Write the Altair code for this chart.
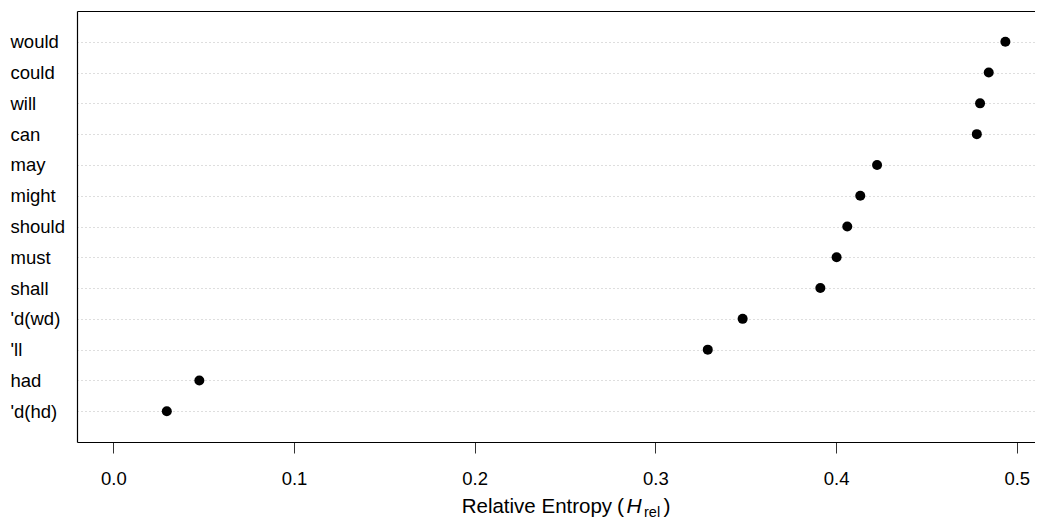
import altair as alt
import pandas as pd

words = ["would", "could", "will", "can", "may", "might", "should", "must",
         "shall", "'d(wd)", "'ll", "had", "'d(hd)"]
values = [0.4937, 0.4845, 0.4797, 0.4779, 0.4227, 0.4134, 0.4062, 0.4003,
          0.3913, 0.3483, 0.3290, 0.0476, 0.0296]
x_ticks = [0.0, 0.1, 0.2, 0.3, 0.4, 0.5]
title_parts = ["Relative Entropy ", "(", "H", "rel", ")"]

FONT = "Liberation Sans"
W, H = 958, 431

df = pd.DataFrame({"word": words, "value": values})

xscale = alt.Scale(domain=[-0.0201, 0.5101], nice=False, zero=False)
yscale = alt.Scale(type="point", padding=1)

points = alt.Chart(df).mark_circle(size=100, color="black", opacity=1).encode(
    x=alt.X("value:Q", scale=xscale,
            axis=alt.Axis(values=x_ticks, format=".1f", title=None, grid=False,
                          domain=True, domainColor="black", domainWidth=1.2,
                          tickColor="#333333", tickSize=11,
                          labelFontSize=18.5, labelPadding=16, labelColor="black",
                          labelFont=FONT)),
    y=alt.Y("word:N", sort=words, scale=yscale,
            axis=alt.Axis(title=None, ticks=False, tickSize=0, labelAlign="left",
                          labelPadding=67, labelFontSize=18.5, labelFont=FONT,
                          labelColor="black", grid=True, gridDash=[1, 3],
                          gridColor="#bdbdbd", domain=True, domainColor="black",
                          domainWidth=1.2)),
)

# invisible layer that only carries the top border line of the box
top_border = alt.Chart(df).mark_circle(opacity=0).encode(
    x=alt.X("value:Q", scale=xscale,
            axis=alt.Axis(orient="top", labels=False, ticks=False, title=None,
                          grid=False, domain=True, domainColor="black",
                          domainWidth=1.2)),
)

def part(i, xpos, ypos, size, style="normal"):
    d = pd.DataFrame({"t": [title_parts[i]]})
    return alt.Chart(d).mark_text(align="left", baseline="alphabetic", font=FONT,
                                  fontSize=size, fontStyle=style, color="black").encode(
        text="t:N", x=alt.value(xpos), y=alt.value(ypos))

base_y = 502
title_layers = [
    part(0, 384.7, base_y, 20.5),
    part(1, 540.0, base_y, 21),
    part(2, 549.5, base_y, 21, "italic"),
    part(3, 567.0, base_y + 3.5, 14.5),
    part(4, 586.5, base_y, 21),
]

chart = alt.layer(points, top_border, *title_layers).resolve_axis(
    x="independent"
).properties(
    width=W, height=H,
    padding={"left": 69, "top": 3, "right": 0, "bottom": 77},
    autosize="none",
).configure_view(stroke=None)

chart.save("out.html", embed_options={"renderer": "svg", "actions": False})
